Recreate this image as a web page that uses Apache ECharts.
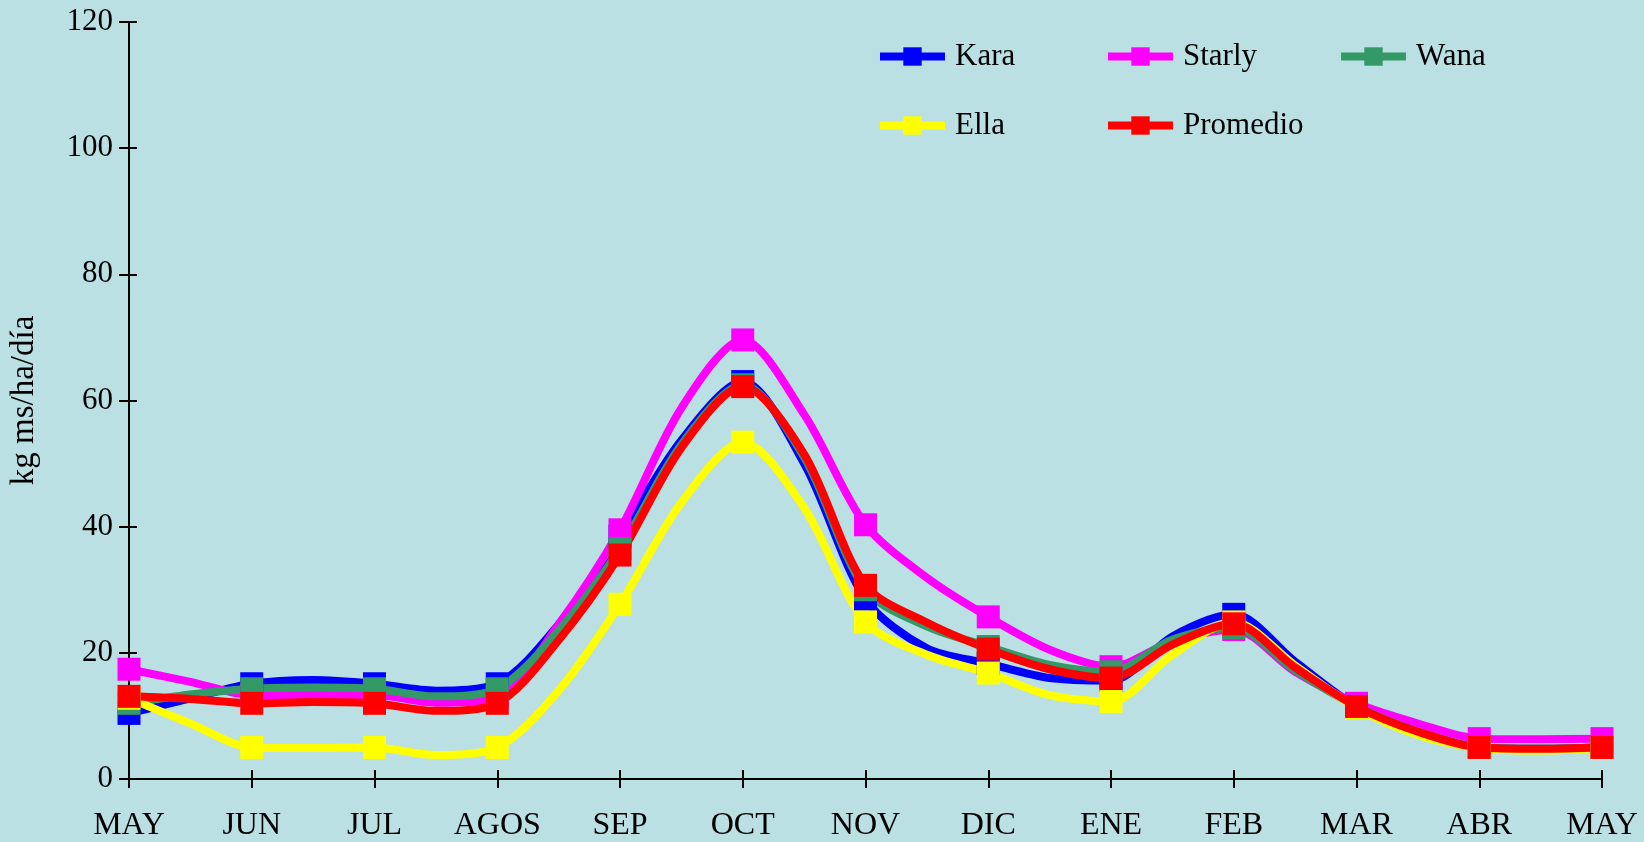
<!DOCTYPE html>
<html>
<head>
<meta charset="utf-8">
<script src="https://cdn.jsdelivr.net/npm/echarts@6/dist/echarts.min.js"></script>
<style>
  html, body { margin: 0; padding: 0; background: #BAE0E3; }
  #chart { width: 1644px; height: 842px; }
</style>
</head>
<body>
<div id="chart"></div>
<script>
// monthly labels, values are taken every half month (markers only on the month)
var months = ['MAY', 'JUN', 'JUL', 'AGOS', 'SEP', 'OCT', 'NOV', 'DIC', 'ENE', 'FEB', 'MAR', 'ABR', 'MAY'];
var yTicks = [0, 20, 40, 60, 80, 100, 120];

var kara     = [10.4, 12.8, 15.1, 15.7, 15.1, 14.0, 15.1, 24.5, 38.5, 53.7, 63.0, 50.0, 28.5, 20.7, 18.3, 16.0, 15.6, 22.6, 26.1, 18.6, 11.5, 7.5, 5.0, 4.8, 5.0];
var starly   = [17.4, 15.4, 13.3, 13.3, 13.3, 12.1, 13.0, 24.5, 39.5, 58.8, 69.6, 57.8, 40.3, 31.9, 25.7, 20.5, 17.8, 21.8, 23.7, 17.0, 12.0, 8.8, 6.4, 6.3, 6.4];
var wana     = [12.0, 13.4, 14.3, 14.5, 14.3, 13.1, 14.3, 23.5, 36.5, 53.0, 62.5, 51.0, 30.0, 24.2, 21.0, 18.1, 17.0, 22.1, 24.0, 17.2, 11.5, 7.5, 5.0, 4.8, 5.0];
var ella     = [12.8, 8.8, 5.0, 4.9, 5.0, 3.8, 5.0, 14.0, 27.7, 43.8, 53.4, 43.0, 24.9, 19.7, 16.8, 13.3, 12.3, 19.7, 24.9, 18.0, 11.3, 7.0, 4.9, 4.5, 4.9];
var promedio = [13.1, 12.7, 12.0, 12.2, 12.0, 10.8, 12.0, 22.0, 35.5, 52.5, 62.2, 51.5, 30.7, 24.8, 20.6, 17.4, 16.0, 21.3, 24.6, 17.7, 11.5, 7.5, 5.0, 4.8, 5.0];

var names  = ['Kara', 'Starly', 'Wana', 'Ella', 'Promedio'];
var colors = ['#0000FF', '#FF00FF', '#339966', '#FFFF00', '#FF0000'];
var values = [kara, starly, wana, ella, promedio];

// categories: month, then an unlabeled half-month slot
var cats = [];
months.forEach(function (m, i) {
  cats.push(m);
  if (i < months.length - 1) cats.push('');
});

var serif = '"Liberation Serif", "DejaVu Serif", serif';

var chart = echarts.init(document.getElementById('chart'));

var series = names.map(function (n, i) {
  return {
    name: n,
    type: 'line',
    smooth: 0.3,
    showAllSymbol: true,
    symbol: 'rect',
    symbolSize: 23,
    lineStyle: { width: 8, color: colors[i] },
    itemStyle: { color: colors[i] },
    data: values[i].map(function (v, k) {
      return k % 2 ? { value: v, symbol: 'none' } : v;
    })
  };
});

var legendPos = [[876, 41], [1104, 41], [1337, 41], [876, 110], [1104, 110]];
var legends = names.map(function (n, i) {
  return {
    data: [n],
    left: legendPos[i][0],
    top: legendPos[i][1],
    padding: 0,
    itemWidth: 65,
    itemHeight: 23,
    selectedMode: false,
    lineStyle: { width: 8 },
    textStyle: { fontFamily: serif, fontSize: 31, color: '#000', padding: [0, 0, 0, 5] }
  };
});

var axisLine = { show: true, lineStyle: { color: '#000', width: 2 } };

option = {
  backgroundColor: '#BAE0E3',
  animation: false,
  legend: legends,
  grid: { left: 129, right: 42, top: 22, bottom: 63 },
  xAxis: [
    {
      type: 'category',
      data: cats,
      boundaryGap: false,
      axisLine: axisLine,
      axisTick: {
        show: true, length: 9,
        interval: function (idx) { return idx % 2 === 0; },
        lineStyle: { color: '#000', width: 2 }
      },
      axisLabel: {
        interval: 0, margin: 31,
        fontFamily: serif, fontSize: 32, color: '#000'
      },
      splitLine: { show: false }
    },
    {
      type: 'category',
      data: cats,
      position: 'bottom',
      boundaryGap: false,
      axisLine: { show: false },
      axisTick: {
        show: true, inside: true, length: 9,
        interval: function (idx) { return idx % 2 === 0; },
        lineStyle: { color: '#000', width: 2 }
      },
      axisLabel: { show: false },
      splitLine: { show: false }
    }
  ],
  yAxis: [
    {
      type: 'value',
      min: yTicks[0],
      max: yTicks[yTicks.length - 1],
      interval: 20,
      name: 'kg ms/ha/día',
      nameLocation: 'middle',
      nameGap: 88,
      nameTextStyle: { fontFamily: serif, fontSize: 33, color: '#000' },
      axisLine: axisLine,
      axisTick: { show: true, length: 10, lineStyle: { color: '#000', width: 2 } },
      axisLabel: { margin: 16, fontFamily: serif, fontSize: 31, color: '#000' },
      splitLine: { show: false }
    },
    {
      type: 'value',
      min: yTicks[0],
      max: yTicks[yTicks.length - 1],
      interval: 20,
      position: 'left',
      axisLine: { show: false },
      axisTick: { show: true, inside: true, length: 8, lineStyle: { color: '#000', width: 2 } },
      axisLabel: { show: false },
      splitLine: { show: false }
    }
  ],
  series: series
};

chart.setOption(option);
</script>
</body>
</html>
